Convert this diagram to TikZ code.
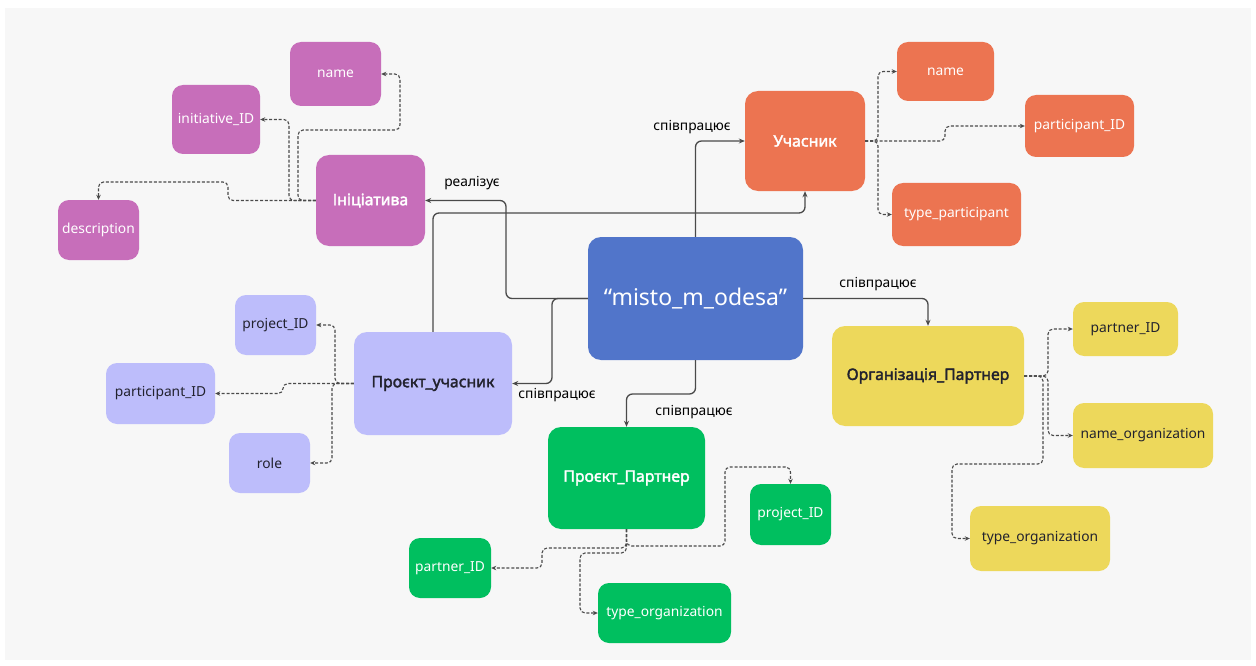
\documentclass[tikz,border=0pt]{standalone}
\usepackage{fontspec}
\setmainfont{Noto Sans}
\newfontfamily\heavyfont{Noto Sans}[FakeBold=2.2]
\usetikzlibrary{arrows.meta}
\definecolor{bgc}{HTML}{F7F7F7}
\definecolor{pinkc}{HTML}{C76EBA}
\definecolor{orangec}{HTML}{EC7451}
\definecolor{bluec}{HTML}{5175CA}
\definecolor{lavc}{HTML}{BDBDFB}
\definecolor{greenc}{HTML}{00BF5F}
\definecolor{yellowc}{HTML}{EDD85B}
\definecolor{linec}{HTML}{4A4A4A}
\definecolor{darktxt}{HTML}{22222E}
\tikzset{
  box/.style={rectangle, rounded corners=11pt, inner sep=0pt, align=center, font=\fontsize{13.8}{16}\selectfont},
  bigbox/.style={box, rounded corners=13pt, font=\heavyfont\fontsize{15.8}{18}\selectfont},
  rel/.style={draw=linec, line width=1.3pt, rounded corners=6pt, -{Stealth[length=6pt,width=5pt]}},
  attr/.style={draw=linec, line width=1.1pt, dash pattern=on 3pt off 1.8pt, rounded corners=5pt, -{Stealth[length=5pt,width=4.5pt]}},
  lbl/.style={font=\fontsize{13.8}{16}\selectfont, text=black, inner sep=0pt}
}
\begin{document}
\begin{tikzpicture}[x=1pt,y=-1pt]
\useasboundingbox (0,0) rectangle (1256,666);
\fill[bgc] (5,8) rectangle (1251,660);
% main nodes
\node[box, rounded corners=13pt, fill=bluec, text=white, minimum width=215pt, minimum height=123pt, font=\fontsize{23}{26}\selectfont] (center) at (695.5,298.5) {“misto\_m\_odesa”};
\node[bigbox, fill=pinkc, text=white, minimum width=109pt, minimum height=91pt] (ini) at (370.5,200.5) {Ініціатива};
\node[bigbox, fill=orangec, text=white, minimum width=120pt, minimum height=100pt] (uch) at (805,141) {Учасник};
\node[bigbox, fill=lavc, text=darktxt, minimum width=158pt, minimum height=103pt] (pu) at (433,383.5) {Проєкт\_учасник};
\node[bigbox, fill=greenc, text=white, minimum width=157pt, minimum height=102pt] (pp) at (626.5,478) {Проєкт\_Партнер};
\node[bigbox, fill=yellowc, text=darktxt, minimum width=192pt, minimum height=100pt] (org) at (928,376) {Організація\_Партнер};
% attributes
\node[box, fill=pinkc, text=white, minimum width=91pt, minimum height=64pt] (nameI) at (335.5,74) {name};
\node[box, fill=pinkc, text=white, minimum width=88pt, minimum height=69pt] (iniID) at (216,119.5) {initiative\_ID};
\node[box, fill=pinkc, text=white, minimum width=81pt, minimum height=60pt] (desc) at (98.5,230) {description};
\node[box, fill=orangec, text=white, minimum width=97pt, minimum height=59pt] (nameU) at (945.5,71.5) {name};
\node[box, fill=orangec, text=white, minimum width=109pt, minimum height=62pt] (partU) at (1079.5,126) {participant\_ID};
\node[box, fill=orangec, text=white, minimum width=129pt, minimum height=63pt] (typeP) at (956.5,214.5) {type\_participant};
\node[box, fill=lavc, text=darktxt, minimum width=81pt, minimum height=60pt] (projU) at (275.5,325) {project\_ID};
\node[box, fill=lavc, text=darktxt, minimum width=109pt, minimum height=61pt] (partPU) at (160.5,393.5) {participant\_ID};
\node[box, fill=lavc, text=darktxt, minimum width=81pt, minimum height=60pt] (role) at (269.5,463) {role};
\node[box, fill=greenc, text=white, minimum width=81pt, minimum height=61pt] (projP) at (790.5,514.5) {project\_ID};
\node[box, fill=greenc, text=white, minimum width=82pt, minimum height=60pt] (partP) at (450,568) {partner\_ID};
\node[box, fill=greenc, text=white, minimum width=133pt, minimum height=60pt] (typeOP) at (664.5,613) {type\_organization};
\node[box, fill=yellowc, text=darktxt, minimum width=105pt, minimum height=54pt] (partO) at (1125.5,329) {partner\_ID};
\node[box, fill=yellowc, text=darktxt, minimum width=140pt, minimum height=65pt] (nameO) at (1143,435.5) {name\_organization};
\node[box, fill=yellowc, text=darktxt, minimum width=140pt, minimum height=65pt] (typeO) at (1040,538.5) {type\_organization};
% relations
\draw[rel] (center.west) -- (506,298.5) -- (506,200.5) -- (ini.east);
\draw[rel] (center.west) -- (552,298.5) -- (552,383.5) -- (pu.east);
\draw[rel] (center.north) |- (uch.west);
\draw[rel] (pu.north) -- (433,213) -- (805,213) -- (uch.south);
\draw[rel] (center.east) -| (org.north);
\draw[rel] (center.south) -- (695.5,394) -- (626.5,394) -- (pp.north);
% relation labels
\node[lbl] (l1) at (472,183) {реалізує};
\node[lbl] (l2) at (692,127) {співпрацює};
\node[lbl] (l3) at (557,395) {співпрацює};
\node[lbl] (l4) at (878,284) {співпрацює};
\node[lbl] (l5) at (694,412) {співпрацює};
% attribute links
\draw[attr] (ini.west) -- (298,200.5) -- (298,130) -- (400,130) -- (400,74) -- (nameI.east);
\draw[attr] (ini.west) -- (289,200.5) -- (289,119.5) -- (iniID.east);
\draw[attr] (ini.west) -- (228,200.5) -- (228,182) -- (98.5,182) -- (desc.north);
\draw[attr] (uch.east) -- (878,141) -- (878,71.5) -- (nameU.west);
\draw[attr] (uch.east) -- (945,141) -- (945,126) -- (partU.west);
\draw[attr] (uch.east) -- (878,141) -- (878,214.5) -- (typeP.west);
\draw[attr] (pu.west) -- (335,383.5) -- (335,325) -- (projU.east);
\draw[attr] (pu.west) -- (283,383.5) -- (283,393.5) -- (partPU.east);
\draw[attr] (pu.west) -- (332,383.5) -- (332,463) -- (role.east);
\draw[attr] (pp.south) -- (626.5,546) -- (725,546) -- (725,467) -- (790.5,467) -- (projP.north);
\draw[attr] (pp.south) -- (626.5,548) -- (542,548) -- (542,568) -- (partP.east);
\draw[attr] (pp.south) -- (626.5,553) -- (580,553) -- (580,613) -- (typeOP.west);
\draw[attr] (org.east) -- (1048,376) -- (1048,329) -- (partO.west);
\draw[attr] (org.east) -- (1048,376) -- (1048,435.5) -- (nameO.west);
\draw[attr] (org.east) -- (1043,376) -- (1043,464) -- (952,464) -- (952,538.5) -- (typeO.west);
\end{tikzpicture}
\end{document}
